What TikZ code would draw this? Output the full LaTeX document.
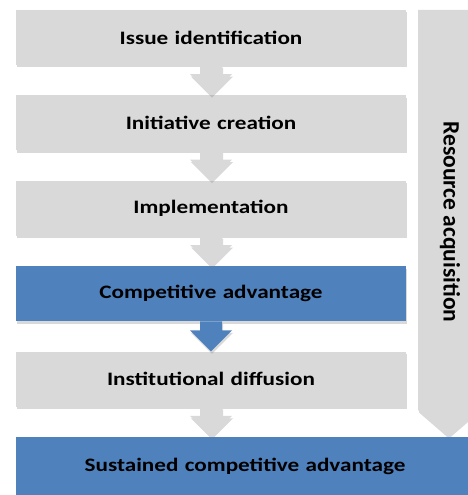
\documentclass[tikz,border=0pt]{standalone}
\usepackage{fontspec}
\setmainfont{Carlito}
\newfontfamily\widefont{Carlito}[FakeStretch=1.22]
\usetikzlibrary{positioning, shadows, calc}

\definecolor{stagegray}{RGB}{217,217,217}
\definecolor{stageblue}{RGB}{79,129,189}

% block arrow from the bottom of one stage to the top of the next
\newcommand{\stagearrow}[3]{%
  \coordinate (tip) at (#1.south |- #2.north);
  \fill[#3, soft shadow]
    ($(#1.south)+(-11pt,0)$) -- ($(tip)+(-11pt,21pt)$)
    -- ($(tip)+(-21pt,21pt)$) -- (tip)
    -- ($(tip)+(21pt,21pt)$) -- ($(tip)+(11pt,21pt)$)
    -- ($(#1.south)+(11pt,0)$) -- cycle;
}

\begin{document}
\begin{tikzpicture}[
	node distance=30pt and 0pt,
	soft shadow/.style={drop shadow={shadow xshift=1pt, shadow yshift=-2.5pt,
		opacity=0.3}},
	stage/.style={rectangle, fill=stagegray, text width=390pt, inner sep=0pt,
		minimum height=55pt, align=center, soft shadow,
		font=\widefont\bfseries\fontsize{19}{22}\selectfont},
	keystage/.style={stage, fill=stageblue},
	]
	\useasboundingbox (0,0) rectangle (467pt,-495pt);

	% resource chevron on the right
	\coordinate (res-top) at (448pt,-10pt);
	\fill[stagegray, soft shadow] ($(res-top)+(-30pt,0)$) -- ($(res-top)+(30pt,0)$)
		-- ($(res-top)+(30pt,-400pt)$) -- ($(res-top)+(0,-426pt)$)
		-- ($(res-top)+(-30pt,-400pt)$) -- cycle;
	\node[rotate=-90, font=\bfseries\fontsize{23.5}{26}\selectfont] (res)
		at (450pt,-222pt) {Resource acquisition};

	\node [stage] (issue) at (211pt,-37.5pt) {Issue identification};
	\node [stage, below= of issue] (initiative) {Initiative creation};
	\node [stage, below= of initiative] (implement) {Implementation};
	\node [keystage, below= of implement] (compet) {Competitive advantage};
	\node [stage, below= of compet] (diffusion) {Institutional diffusion};
	\node [keystage, text width=458pt, minimum height=58pt,
		below right= of diffusion.south west] (sustain) {Sustained competitive advantage};

	\stagearrow{issue}{initiative}{stagegray}
	\stagearrow{initiative}{implement}{stagegray}
	\stagearrow{implement}{compet}{stagegray}
	\stagearrow{compet}{diffusion}{stageblue}
	\stagearrow{diffusion}{sustain}{stagegray}
\end{tikzpicture}
\end{document}
